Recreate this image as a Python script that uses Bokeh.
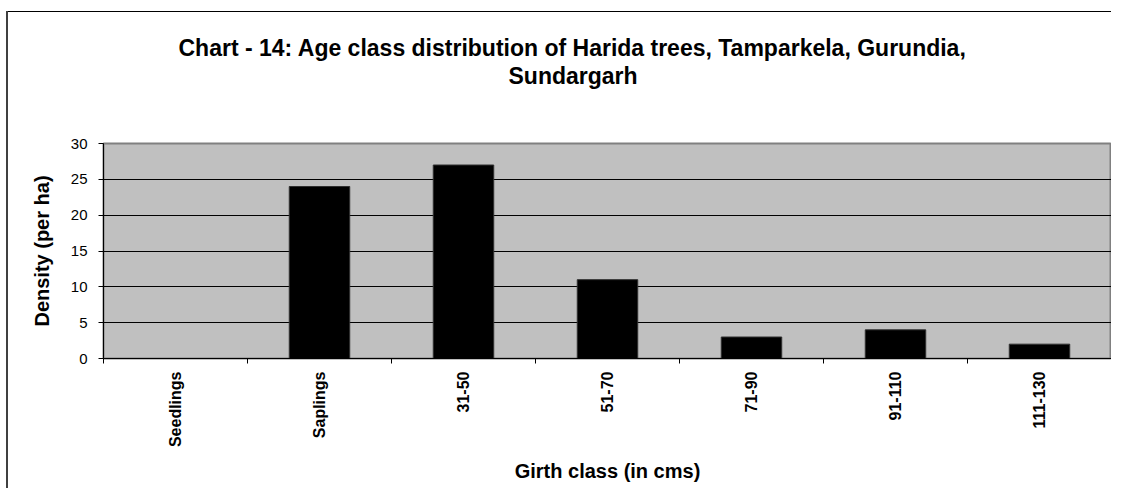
import math
from bokeh.plotting import figure
from bokeh.models import Range1d, LinearAxis, FixedTicker, Title, CustomJSTickFormatter, ColumnDataSource
from bokeh.embed import file_html
from bokeh.resources import INLINE

categories = ["Seedlings", "Saplings", "31-50", "51-70", "71-90", "91-110", "111-130"]
density = [0, 24, 27, 11, 3, 4, 2]
y_ticks = [0, 5, 10, 15, 20, 25, 30]
title_line1 = "Chart - 14: Age class distribution of Harida trees, Tamparkela, Gurundia,"
title_line2 = "Sundargarh"
x_title = "Girth class (in cms)"
y_title = "Density (per ha)"

n = len(categories)
src = ColumnDataSource(dict(x=[i + 0.5 for i in range(n)], top=density, cat=categories))

p = figure(width=1111, height=488, x_range=Range1d(0, n), y_range=Range1d(0, 30),
           output_backend="svg", toolbar_location=None,
           x_axis_location=None, y_axis_location=None,
           min_border_left=103, min_border_right=0, min_border_top=143, min_border_bottom=10)
p.background_fill_color = "#C0C0C0"
p.border_fill_color = None
p.outline_line_color = "#808080"
p.outline_line_width = 2

p.vbar(x="x", top="top", width=0.42, bottom=0, source=src,
       fill_color="black", line_color="#303030", line_width=1)

p.xgrid.visible = False
p.ygrid.ticker = FixedTicker(ticks=y_ticks)
p.ygrid.grid_line_color = "black"
p.ygrid.grid_line_width = 1

yax = LinearAxis(ticker=FixedTicker(ticks=y_ticks))
yax.major_tick_out = 5
yax.major_tick_in = 0
yax.minor_tick_out = 0
yax.axis_line_color = "black"
yax.major_tick_line_color = "black"
yax.major_label_text_font = "Liberation Sans"
yax.major_label_text_font_size = "15px"
yax.major_label_text_color = "black"
yax.major_label_standoff = 11
yax.axis_label = y_title
yax.axis_label_text_font = "Liberation Sans"
yax.axis_label_text_font_style = "bold"
yax.axis_label_text_font_size = "20px"
yax.axis_label_text_color = "black"
yax.axis_label_standoff = 15
p.add_layout(yax, "left")

xax = LinearAxis(ticker=FixedTicker(ticks=[i + 0.5 for i in range(n)], minor_ticks=list(range(n + 1))))
xax.formatter = CustomJSTickFormatter(args=dict(cats=categories), code="return cats[Math.floor(tick)];")
xax.major_tick_out = 0
xax.major_tick_in = 0
xax.minor_tick_out = 5
xax.minor_tick_in = 0
xax.minor_tick_line_color = "black"
xax.axis_line_color = "black"
xax.major_label_orientation = math.pi / 2
xax.major_label_text_font = "Liberation Sans"
xax.major_label_text_font_style = "bold"
xax.major_label_text_font_size = "16px"
xax.major_label_text_color = "black"
xax.major_label_standoff = 8
p.add_layout(xax, "below")

xt = Title(text=x_title, align="center", text_font="Liberation Sans", text_font_style="bold",
           text_font_size="20px", text_color="black", standoff=14)
p.add_layout(xt, "below")

spacer = Title(text=" ", align="center", text_font_size="10px", standoff=42)
p.add_layout(spacer, "above")
t2 = Title(text=title_line2, align="left", offset=405, text_font="Liberation Sans", text_font_style="bold",
           text_font_size="23px", text_color="black", standoff=0)
p.add_layout(t2, "above")
t1 = Title(text=title_line1, align="left", offset=75, text_font="Liberation Sans", text_font_style="bold",
           text_font_size="23px", text_color="black", standoff=0)
p.add_layout(t1, "above")

p.styles = {
    "background": "linear-gradient(#404040,#404040) 6px 11px / 2px calc(100% - 11px) no-repeat, "
                  "linear-gradient(#000,#000) 6px 11px / calc(100% - 6px) 1px no-repeat, #ffffff"
}

open("out.html", "w").write(file_html(p, INLINE))
